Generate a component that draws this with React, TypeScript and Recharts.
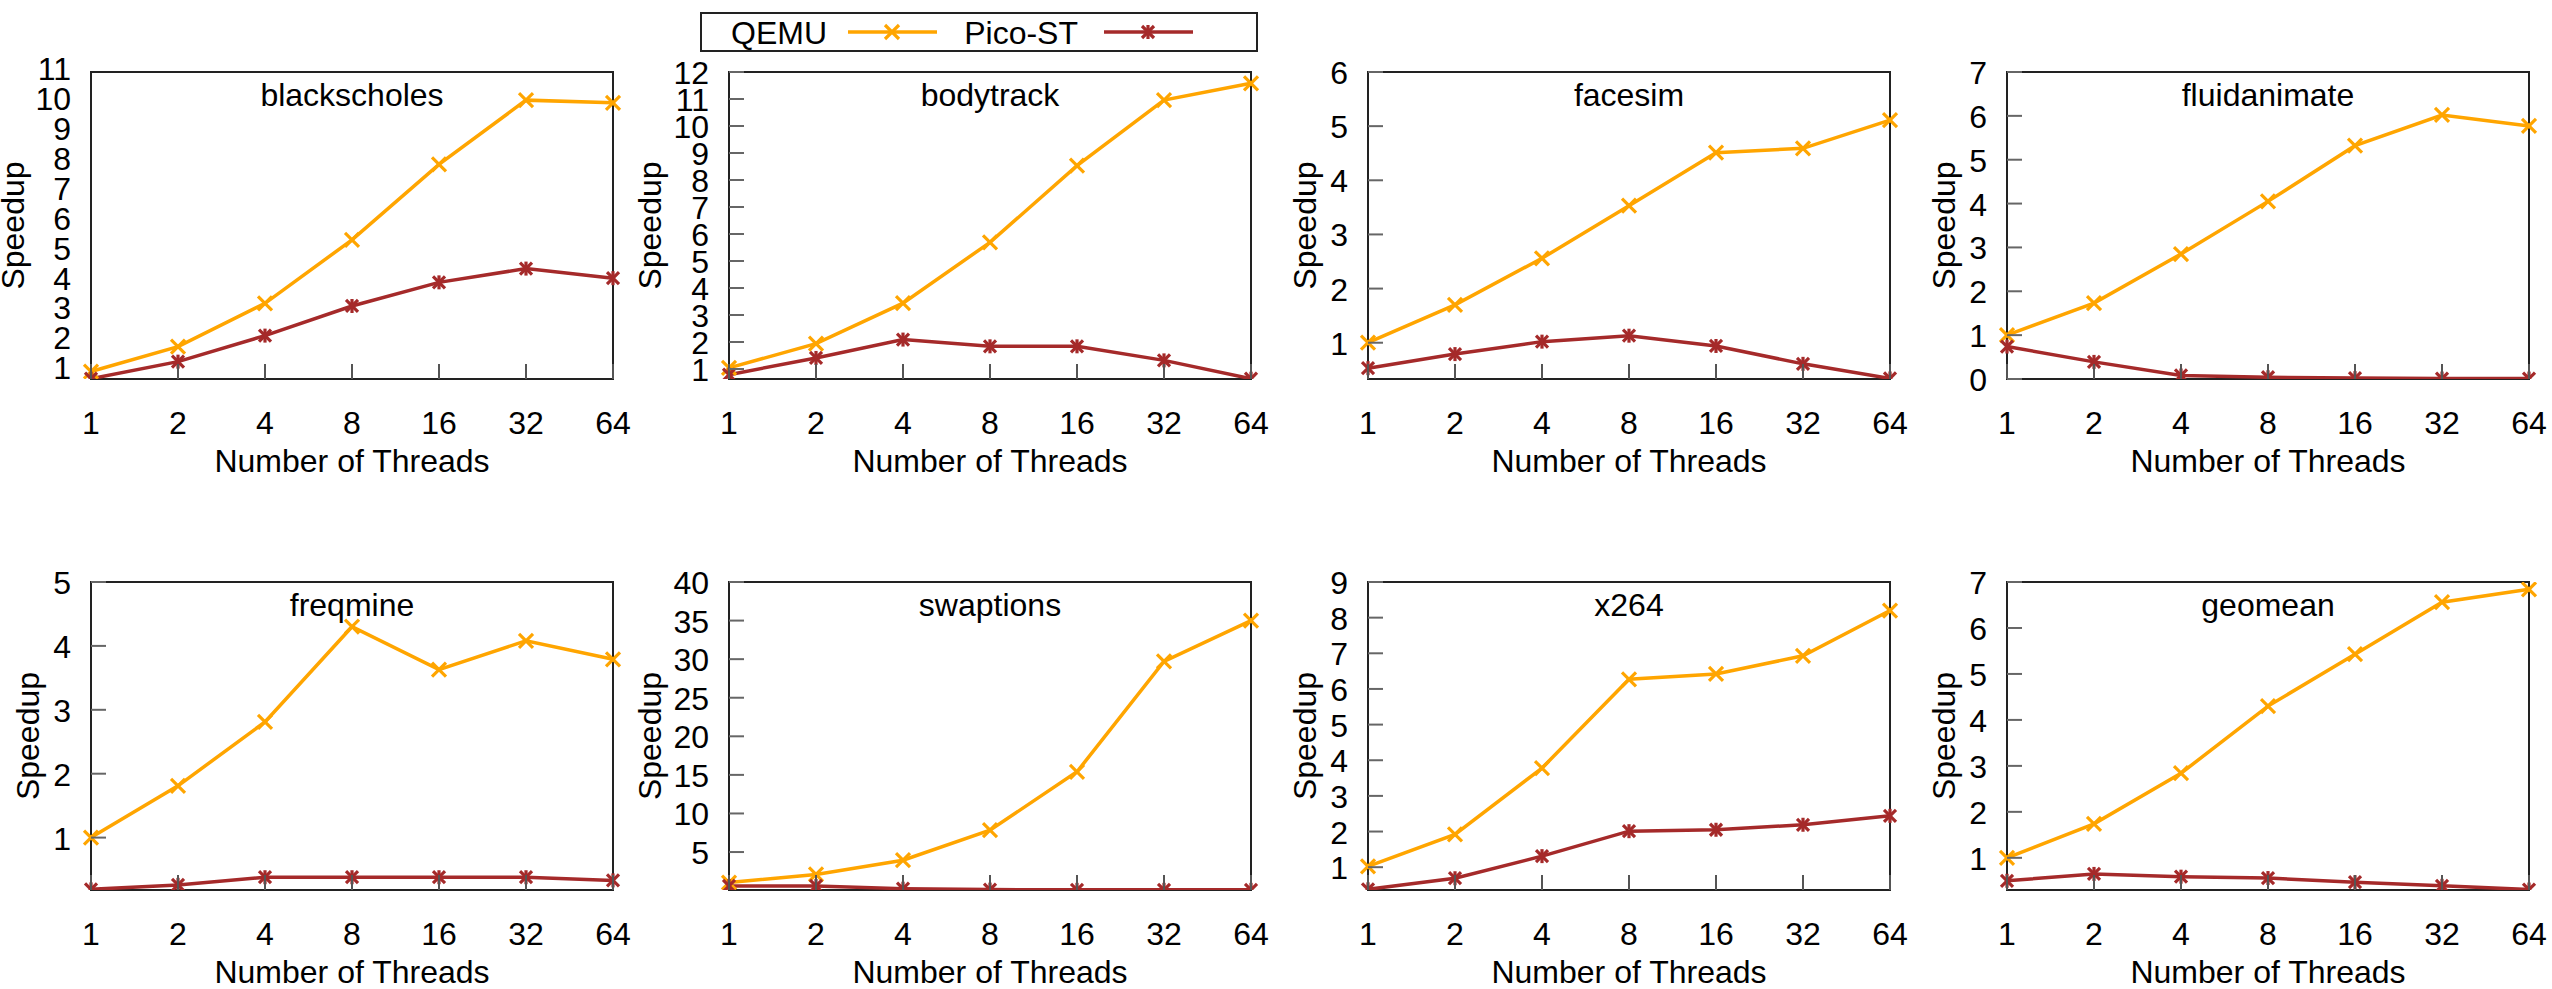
import React from 'react';
import { LineChart, Line, XAxis, YAxis, Legend } from 'recharts';

const threads = ['1', '2', '4', '8', '16', '32', '64'];
const seriesOrder = ['QEMU', 'Pico-ST'];

const blackscholesQemu = [0.86, 1.69, 3.14, 5.26, 7.78, 9.93, 9.84];
const blackscholesPico = [0.62, 1.19, 2.06, 3.05, 3.84, 4.3, 3.98];
const bodytrackQemu = [1.04, 1.94, 3.44, 5.69, 8.53, 10.96, 11.58];
const bodytrackPico = [0.79, 1.41, 2.09, 1.84, 1.84, 1.32, 0.64];
const facesimQemu = [1.0, 1.7, 2.56, 3.53, 4.51, 4.59, 5.11];
const facesimPico = [0.53, 0.79, 1.02, 1.13, 0.94, 0.61, 0.34];
const fluidanimateQemu = [1.0, 1.73, 2.85, 4.05, 5.32, 6.02, 5.77];
const fluidanimatePico = [0.74, 0.39, 0.08, 0.04, 0.02, 0.01, 0.01];
const freqmineQemu = [1.0, 1.81, 2.81, 4.3, 3.63, 4.08, 3.79];
const freqminePico = [0.19, 0.26, 0.38, 0.38, 0.38, 0.38, 0.33];
const swaptionsQemu = [1.05, 2.1, 3.94, 7.83, 15.4, 29.7, 35.0];
const swaptionsPico = [0.6, 0.6, 0.25, 0.13, 0.1, 0.1, 0.1];
const x264Qemu = [1.02, 1.92, 3.78, 6.27, 6.42, 6.93, 8.2];
const x264Pico = [0.38, 0.69, 1.31, 2.01, 2.05, 2.19, 2.44];
const geomeanQemu = [1.0, 1.74, 2.84, 4.3, 5.43, 6.56, 6.84];
const geomeanPico = [0.5, 0.65, 0.59, 0.56, 0.47, 0.39, 0.31];

const blackscholesTicks = [1, 2, 3, 4, 5, 6, 7, 8, 9, 10, 11];
const bodytrackTicks = [1, 2, 3, 4, 5, 6, 7, 8, 9, 10, 11, 12];
const facesimTicks = [1, 2, 3, 4, 5, 6];
const fluidanimateTicks = [0, 1, 2, 3, 4, 5, 6, 7];
const freqmineTicks = [1, 2, 3, 4, 5];
const swaptionsTicks = [5, 10, 15, 20, 25, 30, 35, 40];
const x264Ticks = [1, 2, 3, 4, 5, 6, 7, 8, 9];
const geomeanTicks = [1, 2, 3, 4, 5, 6, 7];

const FONT = '"Liberation Sans", Arial, Helvetica, sans-serif';
const QEMU_COLOR = '#FFA500';
const PICO_COLOR = '#A52A2A';
const PAD = 24;
const BOX_L = 91 + PAD;
const BOX_T = 72;
const BOX_W = 522;
const CHART_W = 638 + PAD;
const COL_LEFT = [0, 638, 1277, 1916];

type PanelCfg = {
  title: string;
  qemu: number[];
  pico: number[];
  ticks: number[];
  domain: [number, number];
  row: number;
  col: number;
  ylOff: number;
  yMarks: boolean;
};

const panels: PanelCfg[] = [
  { title: 'blackscholes', qemu: blackscholesQemu, pico: blackscholesPico, ticks: blackscholesTicks, domain: [0.61, 10.87], row: 0, col: 0, ylOff: -67, yMarks: false },
  { title: 'bodytrack', qemu: bodytrackQemu, pico: bodytrackPico, ticks: bodytrackTicks, domain: [0.63, 12], row: 0, col: 1, ylOff: -68, yMarks: true },
  { title: 'facesim', qemu: facesimQemu, pico: facesimPico, ticks: facesimTicks, domain: [0.33, 6], row: 0, col: 2, ylOff: -52, yMarks: true },
  { title: 'fluidanimate', qemu: fluidanimateQemu, pico: fluidanimatePico, ticks: fluidanimateTicks, domain: [0, 7], row: 0, col: 3, ylOff: -52, yMarks: true },
  { title: 'freqmine', qemu: freqmineQemu, pico: freqminePico, ticks: freqmineTicks, domain: [0.18, 5], row: 1, col: 0, ylOff: -52, yMarks: true },
  { title: 'swaptions', qemu: swaptionsQemu, pico: swaptionsPico, ticks: swaptionsTicks, domain: [0.08, 40], row: 1, col: 1, ylOff: -68, yMarks: true },
  { title: 'x264', qemu: x264Qemu, pico: x264Pico, ticks: x264Ticks, domain: [0.36, 9], row: 1, col: 2, ylOff: -52, yMarks: true },
  { title: 'geomean', qemu: geomeanQemu, pico: geomeanPico, ticks: geomeanTicks, domain: [0.3, 7], row: 1, col: 3, ylOff: -52, yMarks: true },
];

const crossLines = (cx: number, cy: number, s: number, color: string, star: boolean) => (
  <>
    <line x1={cx - s} y1={cy - s} x2={cx + s} y2={cy + s} stroke={color} strokeWidth={3.2} />
    <line x1={cx - s} y1={cy + s} x2={cx + s} y2={cy - s} stroke={color} strokeWidth={3.2} />
    {star && <line x1={cx} y1={cy - s - 1} x2={cx} y2={cy + s + 1} stroke={color} strokeWidth={3.2} />}
  </>
);

const XMark = (p: any) => {
  const { cx, cy } = p;
  if (cx == null || cy == null) return <g key={`qx${p.index}`} />;
  return <g key={`qx${p.index}`}>{crossLines(cx, cy, 7, QEMU_COLOR, false)}</g>;
};

const StarMark = (p: any) => {
  const { cx, cy } = p;
  if (cx == null || cy == null) return <g key={`ps${p.index}`} />;
  return <g key={`ps${p.index}`}>{crossLines(cx, cy, 6, PICO_COLOR, true)}</g>;
};

const LegendBox = (props: any) => {
  const payload = [...(props.payload || [])].sort(
    (a: any, b: any) => seriesOrder.indexOf(a.value) - seriesOrder.indexOf(b.value)
  );
  const textEnd = [127, 378];
  const lineStart = [148, 404];
  return (
    <svg width={558} height={40} style={{ display: 'block', overflow: 'visible' }}>
      <rect x={1} y={1} width={556} height={38} fill="#fff" stroke="#222" strokeWidth={2} />
      {payload.map((item: any, i: number) => {
        const ls = lineStart[i] ?? 0;
        const mx = ls + 44;
        const my = 20;
        const isStar = item.value === 'Pico-ST';
        return (
          <g key={item.value}>
            <text x={textEnd[i]} y={32} textAnchor="end" fontSize={32} fontFamily={FONT} fill="#000">
              {item.value}
            </text>
            <line x1={ls} x2={ls + 89} y1={my} y2={my} stroke={item.color} strokeWidth={3.5} />
            {crossLines(mx, my, isStar ? 6 : 7, item.color, isStar)}
          </g>
        );
      })}
    </svg>
  );
};

const Panel = ({ cfg }: { cfg: PanelCfg }) => {
  const chartLeft = COL_LEFT[cfg.col] - PAD;
  const chartTop = cfg.row === 0 ? 0 : 510;
  const boxH = cfg.row === 0 ? 307 : 308;
  const chartH = cfg.row === 0 ? 500 : 479;
  const xh = chartH - BOX_T - boxH;
  const plotBottom = BOX_T + boxH;
  const data = threads.map((t, i) => ({ t, qemu: cfg.qemu[i], pico: cfg.pico[i] }));

  const yTick = (p: any) => {
    const y = p.y;
    return (
      <g key={`yt${p.index}`}>
        {cfg.yMarks && <line x1={BOX_L} x2={BOX_L + 15} y1={y} y2={y} stroke="#666" strokeWidth={2} />}
        <text x={BOX_L - 20} y={y + 12} textAnchor="end" fontSize={32} fontFamily={FONT} fill="#000">
          {p.payload.value}
        </text>
      </g>
    );
  };

  const xTick = (p: any) => {
    const x = p.x;
    return (
      <g key={`xt${p.index}`}>
        <line x1={x} x2={x} y1={plotBottom} y2={plotBottom - 15} stroke="#555" strokeWidth={2} />
        <text x={x} y={plotBottom + 55} textAnchor="middle" fontSize={32} fontFamily={FONT} fill="#000">
          {p.payload.value}
        </text>
      </g>
    );
  };

  const xLabel = () => (
    <g>
      <text x={BOX_L + BOX_W / 2} y={plotBottom + 93} textAnchor="middle" fontSize={32} fontFamily={FONT} fill="#000">
        Number of Threads
      </text>
      <text x={BOX_L + BOX_W / 2} y={BOX_T + 34} textAnchor="middle" fontSize={32} fontFamily={FONT} fill="#000">
        {cfg.title}
      </text>
    </g>
  );

  const yLabel = () => (
    <text
      transform={`translate(${BOX_L + cfg.ylOff}, ${BOX_T + boxH / 2}) rotate(-90)`}
      textAnchor="middle"
      fontSize={32}
      fontFamily={FONT}
      fill="#000"
    >
      Speedup
    </text>
  );

  return (
    <>
      <div
        style={{
          position: 'absolute',
          left: chartLeft + BOX_L - 1,
          top: chartTop + BOX_T - 1,
          width: BOX_W + 2,
          height: boxH + 2,
          border: '2px solid #222',
          boxSizing: 'border-box',
        }}
      />
      <div style={{ position: 'absolute', left: chartLeft, top: chartTop, width: CHART_W, height: chartH }}>
        <LineChart width={CHART_W} height={chartH} data={data} margin={{ top: BOX_T, right: CHART_W - BOX_L - BOX_W, bottom: 0, left: 0 }}>
          <XAxis
            dataKey="t"
            type="category"
            height={xh}
            axisLine={false}
            tickLine={false}
            interval={0}
            tick={xTick}
            label={{ content: xLabel }}
          />
          <YAxis
            type="number"
            width={BOX_L}
            domain={cfg.domain}
            allowDataOverflow
            ticks={cfg.ticks}
            interval={0}
            axisLine={false}
            tickLine={false}
            tick={yTick}
            label={{ content: yLabel }}
          />
          {cfg.col === 1 && cfg.row === 0 && (
            <Legend
              layout="vertical"
              align="center"
              verticalAlign="middle"
              content={LegendBox}
              wrapperStyle={{ left: 700 - chartLeft, top: 12, width: 558, height: 40 }}
            />
          )}
          <Line
            type="linear"
            dataKey="qemu"
            name="QEMU"
            stroke={QEMU_COLOR}
            strokeWidth={3.5}
            dot={XMark}
            activeDot={false}
            isAnimationActive={false}
          />
          <Line
            type="linear"
            dataKey="pico"
            name="Pico-ST"
            stroke={PICO_COLOR}
            strokeWidth={3.5}
            dot={StarMark}
            activeDot={false}
            isAnimationActive={false}
          />
        </LineChart>
      </div>
    </>
  );
};

export default function App() {
  return (
    <div
      style={{
        position: 'absolute',
        left: 0,
        top: 0,
        width: 2552,
        height: 989,
        overflow: 'hidden',
        background: '#fff',
        fontFamily: FONT,
      }}
    >
      {panels.map((cfg) => (
        <Panel key={cfg.title} cfg={cfg} />
      ))}
    </div>
  );
}
